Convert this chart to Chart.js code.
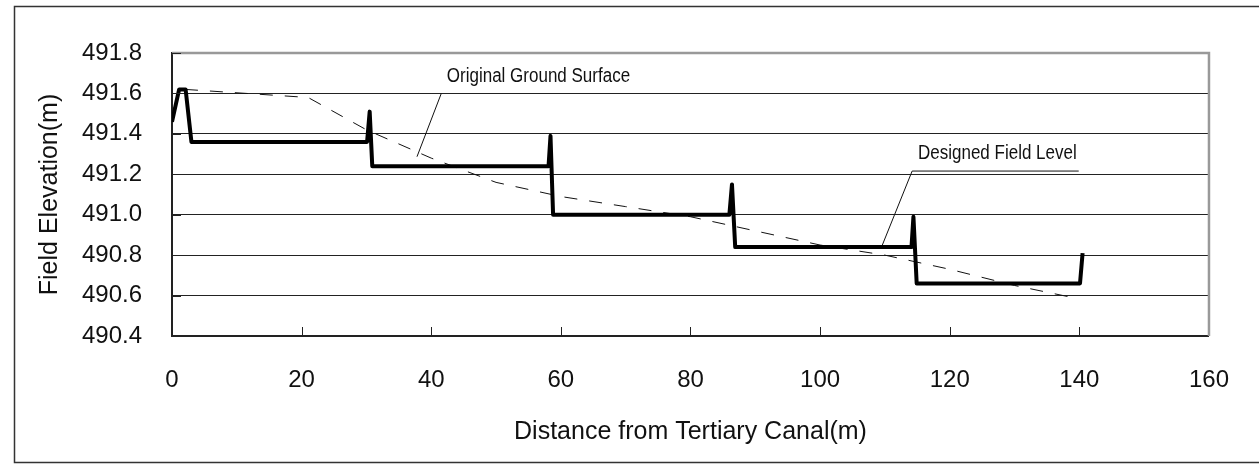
<!DOCTYPE html>
<html>
<head>
<meta charset="utf-8">
<title>Field Elevation Profile</title>
<script src="https://cdn.jsdelivr.net/npm/chart.js@4.4.1/dist/chart.umd.min.js"></script>
<style>
  html, body { margin: 0; padding: 0; background: #fff; }
  canvas { display: block; }
</style>
</head>
<body>
<canvas id="profileChart" width="1259" height="464"></canvas>
<script>
// designed (levelled) field surface, stepped terraces with bund spikes
const designDist = [0, 1.1, 2.1, 3.0, 30.1, 30.5, 30.9, 58.1, 58.4, 58.8, 86.0, 86.4, 86.9, 114.1, 114.4, 114.9, 140.1, 140.5];
const designElev = [491.46, 491.62, 491.62, 491.36, 491.36, 491.51, 491.24, 491.24, 491.39, 491.00, 491.00, 491.15, 490.84, 490.84, 490.99, 490.66, 490.66, 490.81];

// original ground surface survey
const groundDist = [2, 21, 30, 40, 50, 60, 70, 80, 90, 100, 110, 120, 130, 139];
const groundElev = [491.62, 491.58, 491.42, 491.28, 491.16, 491.09, 491.04, 490.99, 490.92, 490.85, 490.80, 490.73, 490.65, 490.59];

const xTicks = [0, 20, 40, 60, 80, 100, 120, 140, 160];
const yTicks = [490.4, 490.6, 490.8, 491.0, 491.2, 491.4, 491.6, 491.8];

const labelFont = "'Liberation Sans', Arial, sans-serif";
const calloutFont = "20px 'Liberation Sans', Arial, sans-serif";

const toPoints = (xs, ys) => xs.map((x, i) => ({ x: x, y: ys[i] }));

// callouts, given in data units
const callouts = [
  { text: "Original Ground Surface", at: [42.4, 491.658], leader: [[41.55, 491.6], [37.8, 491.287]] },
  { text: "Designed Field Level", at: [115.1, 491.274], leader: [[139.9, 491.216], [114.2, 491.216], [109.6, 490.85]] },
];

const framePlugin = {
  id: "frame",
  beforeDraw(chart) {
    const ctx = chart.ctx;
    ctx.save();
    ctx.fillStyle = "#fff";
    ctx.fillRect(0, 0, chart.width, chart.height);
    ctx.strokeStyle = "#333";
    ctx.lineWidth = 1.5;
    ctx.beginPath();
    ctx.moveTo(chart.width + 2, 6.5);
    ctx.lineTo(14.5, 6.5);
    ctx.lineTo(14.5, 462.5);
    ctx.lineTo(chart.width + 2, 462.5);
    ctx.stroke();
    ctx.restore();
  },
  afterDraw(chart) {
    const ctx = chart.ctx;
    const area = chart.chartArea;
    const xs = chart.scales.x;
    const ys = chart.scales.y;
    ctx.save();

    // grey top / right edge of the plot
    ctx.strokeStyle = "#999";
    ctx.lineWidth = 2.5;
    ctx.beginPath();
    ctx.moveTo(area.left, area.top);
    ctx.lineTo(area.right, area.top);
    ctx.lineTo(area.right, area.bottom);
    ctx.stroke();

    // inward tick marks
    ctx.strokeStyle = "#222";
    ctx.lineWidth = 1;
    ctx.beginPath();
    xTicks.forEach((v) => {
      if (v === 0 || v === 160) return;
      const px = Math.round(xs.getPixelForValue(v)) + 0.5;
      ctx.moveTo(px, area.bottom);
      ctx.lineTo(px, area.bottom - 9);
    });
    yTicks.forEach((v) => {
      const py = Math.round(ys.getPixelForValue(v)) + 0.5;
      ctx.moveTo(area.left, py);
      ctx.lineTo(area.left + 9, py);
    });
    ctx.stroke();

    // callout labels (narrow drafting lettering) and leaders
    ctx.lineWidth = 1;
    ctx.strokeStyle = "#111";
    ctx.fillStyle = "#111";
    ctx.font = calloutFont;
    ctx.textBaseline = "alphabetic";
    ctx.textAlign = "left";
    callouts.forEach((c) => {
      ctx.save();
      ctx.translate(xs.getPixelForValue(c.at[0]), ys.getPixelForValue(c.at[1]));
      ctx.scale(0.85, 1);
      ctx.fillText(c.text, 0, 0);
      ctx.restore();
      ctx.beginPath();
      c.leader.forEach((p, i) => {
        const px = xs.getPixelForValue(p[0]);
        const py = ys.getPixelForValue(p[1]);
        if (i === 0) ctx.moveTo(px, py); else ctx.lineTo(px, py);
      });
      ctx.stroke();
    });
    ctx.restore();
  },
};

const ctx = document.getElementById("profileChart").getContext("2d");
new Chart(ctx, {
  type: "line",
  data: {
    datasets: [
      {
        label: "Designed Field Level",
        data: toPoints(designDist, designElev),
        borderColor: "#000",
        borderWidth: 4,
        borderJoinStyle: "round",
        pointRadius: 0,
        tension: 0,
        fill: false,
      },
      {
        label: "Original Ground Surface",
        data: toPoints(groundDist, groundElev),
        borderColor: "#111",
        borderWidth: 1,
        borderDash: [13, 12],
        pointRadius: 0,
        tension: 0,
        fill: false,
      },
    ],
  },
  options: {
    responsive: false,
    animation: false,
    layout: { padding: { left: 14, top: 53, right: 46, bottom: 0 } },
    plugins: {
      legend: { display: false },
      tooltip: { enabled: false },
    },
    scales: {
      x: {
        type: "linear",
        min: 0,
        max: 160,
        afterFit: (scale) => { scale.height = 128; },
        afterBuildTicks: (scale) => { scale.ticks = xTicks.map((v) => ({ value: v })); },
        grid: { display: false, drawTicks: false },
        border: { color: "#222", width: 2 },
        ticks: {
          padding: 30,
          color: "#111",
          font: { family: labelFont, size: 24 },
        },
        title: {
          display: true,
          text: "Distance from Tertiary Canal(m)",
          color: "#111",
          font: { family: labelFont, size: 25 },
          padding: { top: 0, bottom: 17 },
        },
      },
      y: {
        type: "linear",
        min: 490.4,
        max: 491.8,
        afterFit: (scale) => { scale.width = 158; },
        afterBuildTicks: (scale) => { scale.ticks = yTicks.map((v) => ({ value: v })); },
        grid: {
          drawTicks: false,
          color: (c) => (c.tick && (c.tick.value === 491.8 || c.tick.value === 490.4) ? "rgba(0,0,0,0)" : "#222"),
          lineWidth: 1,
        },
        border: { color: "#222", width: 2 },
        ticks: {
          padding: 30,
          color: "#111",
          font: { family: labelFont, size: 24 },
          callback: (v) => Number(v).toFixed(1),
        },
        title: {
          display: true,
          text: "Field Elevation(m)",
          color: "#111",
          font: { family: labelFont, size: 25 },
          padding: { top: 21, bottom: 0 },
        },
      },
    },
  },
  plugins: [framePlugin],
});
</script>
</body>
</html>
